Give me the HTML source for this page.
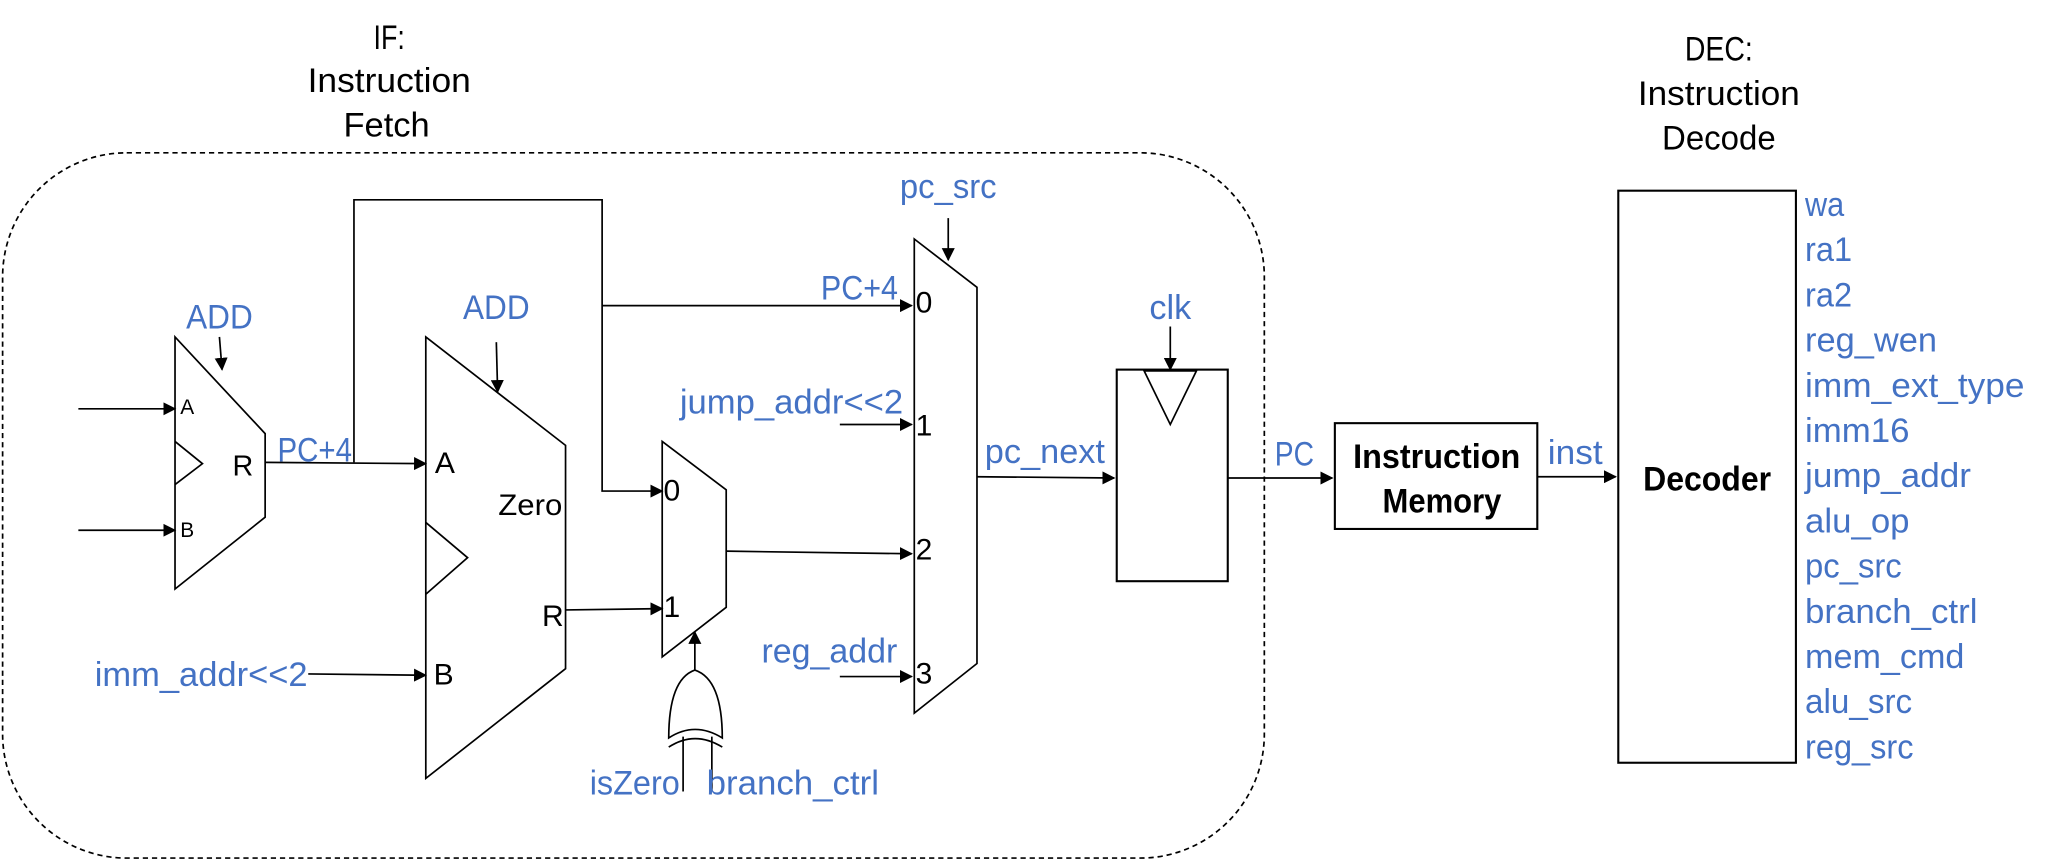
<!DOCTYPE html>
<html><head><meta charset="utf-8"><style>
html,body{margin:0;padding:0;background:#fff;}
svg{display:block;}
text{font-family:"Liberation Sans",sans-serif;dominant-baseline:central;}
.b{fill:#4472C4;font-size:26px;}
.k{fill:#000;font-size:26px;}
</style></head><body>
<svg width="2048" height="859" viewBox="0 0 1568 657.7" preserveAspectRatio="none" xmlns="http://www.w3.org/2000/svg">
<defs><marker id="a" markerWidth="10" markerHeight="10" refX="9" refY="5" orient="auto" markerUnits="userSpaceOnUse"><path d="M0,0 L10,5 L0,10 z" fill="#000"/></marker></defs>
<g stroke="#000" fill="none" stroke-width="1.3">
<rect x="2" y="117" width="966" height="540" rx="95" ry="95" stroke-dasharray="4,3"/>
<path d="M134,258 L203,332 L203,396 L134,451 Z"/>
<path d="M134,338 L155,355 L134,371"/>
<line x1="168" y1="258" x2="170" y2="283" marker-end="url(#a)"/>
<line x1="60" y1="313" x2="134" y2="313" marker-end="url(#a)"/>
<line x1="60" y1="406" x2="134" y2="406" marker-end="url(#a)"/>
<line x1="203" y1="354" x2="326" y2="355" marker-end="url(#a)"/>
<polyline points="271,354 271,153 461,153 461,376 507,376" marker-end="url(#a)"/>
<line x1="461" y1="234" x2="698" y2="234" marker-end="url(#a)"/>
<path d="M326,258 L433,341 L433,512 L326,596 Z"/>
<path d="M326,400 L358,427 L326,455"/>
<line x1="380" y1="262" x2="381" y2="300" marker-end="url(#a)"/>
<line x1="236" y1="516" x2="326" y2="517" marker-end="url(#a)"/>
<line x1="433" y1="467" x2="507" y2="466" marker-end="url(#a)"/>
<path d="M507,338 L556,375 L556,465 L507,503 Z"/>
<line x1="556" y1="422" x2="698" y2="424" marker-end="url(#a)"/>
<path d="M512,565 Q512,520 532,513 Q553,520 553,565 Q532,552 512,565 Z"/>
<path d="M512,572 Q532,559 553,572"/>
<line x1="532" y1="513" x2="532" y2="484" marker-end="url(#a)"/>
<line x1="523" y1="564" x2="523" y2="606"/>
<line x1="545" y1="564" x2="545" y2="606"/>
<path d="M700,183 L748,220 L748,508 L700,546 Z"/>
<line x1="726" y1="167" x2="726" y2="199" marker-end="url(#a)"/>
<line x1="643" y1="325" x2="698" y2="325" marker-end="url(#a)"/>
<line x1="643" y1="518" x2="698" y2="518" marker-end="url(#a)"/>
<line x1="748" y1="365" x2="853" y2="366" marker-end="url(#a)"/>
<rect x="855" y="283" width="85" height="162" stroke-width="1.6"/>
<path d="M876,284 L916,284 L896,325 Z"/>
<line x1="896" y1="250" x2="896" y2="283" marker-end="url(#a)"/>
<line x1="940" y1="366" x2="1020" y2="366" marker-end="url(#a)"/>
<rect x="1022" y="324" width="155" height="81" stroke-width="1.6"/>
<line x1="1177" y1="365" x2="1237" y2="365" marker-end="url(#a)"/>
<rect x="1239" y="146" width="136" height="438" stroke-width="1.6"/>
</g>
<g text-anchor="middle">
<text class="k" x="298" y="29" textLength="24" lengthAdjust="spacingAndGlyphs">IF:</text>
<text class="k" x="298" y="62" textLength="125" lengthAdjust="spacingAndGlyphs">Instruction</text>
<text class="k" x="296" y="96" textLength="66" lengthAdjust="spacingAndGlyphs">Fetch</text>
<text class="k" x="1316" y="38" textLength="52" lengthAdjust="spacingAndGlyphs">DEC:</text>
<text class="k" x="1316" y="72" textLength="124" lengthAdjust="spacingAndGlyphs">Instruction</text>
<text class="k" x="1316" y="106" textLength="87" lengthAdjust="spacingAndGlyphs">Decode</text>
<text class="b" x="168" y="243" textLength="51" lengthAdjust="spacingAndGlyphs">ADD</text>
<text class="b" x="380" y="236" textLength="51" lengthAdjust="spacingAndGlyphs">ADD</text>
<text class="b" x="241" y="345" textLength="57" lengthAdjust="spacingAndGlyphs">PC+4</text>
<text class="b" x="658" y="221" textLength="59" lengthAdjust="spacingAndGlyphs">PC+4</text>
<text class="b" x="154" y="517" textLength="163" lengthAdjust="spacingAndGlyphs">imm_addr&lt;&lt;2</text>
<text class="b" x="726" y="143" textLength="74" lengthAdjust="spacingAndGlyphs">pc_src</text>
<text class="b" x="606" y="308" textLength="171" lengthAdjust="spacingAndGlyphs">jump_addr&lt;&lt;2</text>
<text class="b" x="635" y="499" textLength="104" lengthAdjust="spacingAndGlyphs">reg_addr</text>
<text class="b" x="800" y="346" textLength="92" lengthAdjust="spacingAndGlyphs">pc_next</text>
<text class="b" x="896" y="236" textLength="32" lengthAdjust="spacingAndGlyphs">clk</text>
<text class="b" x="991" y="348" textLength="30" lengthAdjust="spacingAndGlyphs">PC</text>
<text class="b" x="1206" y="347" textLength="42" lengthAdjust="spacingAndGlyphs">inst</text>
<text class="b" x="486" y="600" textLength="69" lengthAdjust="spacingAndGlyphs">isZero</text>
<text class="b" x="607" y="600" textLength="132" lengthAdjust="spacingAndGlyphs">branch_ctrl</text>
<text class="k" x="406" y="387" textLength="49" lengthAdjust="spacingAndGlyphs" style="font-size:23px">Zero</text>
<text class="k" x="1100" y="350" font-weight="bold" textLength="128" lengthAdjust="spacingAndGlyphs">Instruction</text>
<text class="k" x="1104" y="384" font-weight="bold" textLength="91" lengthAdjust="spacingAndGlyphs">Memory</text>
<text class="k" x="1307" y="367" font-weight="bold" textLength="98" lengthAdjust="spacingAndGlyphs">Decoder</text>
</g>
<g>
<text class="k" x="138" y="312" style="font-size:16px">A</text>
<text class="k" x="138" y="406" style="font-size:16px">B</text>
<text class="k" x="178" y="357" style="font-size:22px">R</text>
<text class="k" x="333" y="355" style="font-size:23px">A</text>
<text class="k" x="332" y="517" style="font-size:23px">B</text>
<text class="k" x="415" y="472" style="font-size:23px">R</text>
<text class="k" x="508" y="376" style="font-size:23px">0</text>
<text class="k" x="508" y="465" style="font-size:23px">1</text>
<text class="k" x="701" y="232" style="font-size:23px">0</text>
<text class="k" x="701" y="326" style="font-size:23px">1</text>
<text class="k" x="701" y="421" style="font-size:23px">2</text>
<text class="k" x="701" y="516" style="font-size:23px">3</text>
</g>
<g>
<text class="b" x="1382" y="157" textLength="30" lengthAdjust="spacingAndGlyphs">wa</text>
<text class="b" x="1382" y="191.6" textLength="36" lengthAdjust="spacingAndGlyphs">ra1</text>
<text class="b" x="1382" y="226.2" textLength="36" lengthAdjust="spacingAndGlyphs">ra2</text>
<text class="b" x="1382" y="260.8" textLength="101" lengthAdjust="spacingAndGlyphs">reg_wen</text>
<text class="b" x="1382" y="295.4" textLength="168" lengthAdjust="spacingAndGlyphs">imm_ext_type</text>
<text class="b" x="1382" y="330" textLength="80" lengthAdjust="spacingAndGlyphs">imm16</text>
<text class="b" x="1382" y="364.6" textLength="127" lengthAdjust="spacingAndGlyphs">jump_addr</text>
<text class="b" x="1382" y="399.2" textLength="80" lengthAdjust="spacingAndGlyphs">alu_op</text>
<text class="b" x="1382" y="433.8" textLength="74" lengthAdjust="spacingAndGlyphs">pc_src</text>
<text class="b" x="1382" y="468.4" textLength="132" lengthAdjust="spacingAndGlyphs">branch_ctrl</text>
<text class="b" x="1382" y="503" textLength="122" lengthAdjust="spacingAndGlyphs">mem_cmd</text>
<text class="b" x="1382" y="537.6" textLength="82" lengthAdjust="spacingAndGlyphs">alu_src</text>
<text class="b" x="1382" y="572.2" textLength="83" lengthAdjust="spacingAndGlyphs">reg_src</text>
</g>
</svg>
</body></html>
